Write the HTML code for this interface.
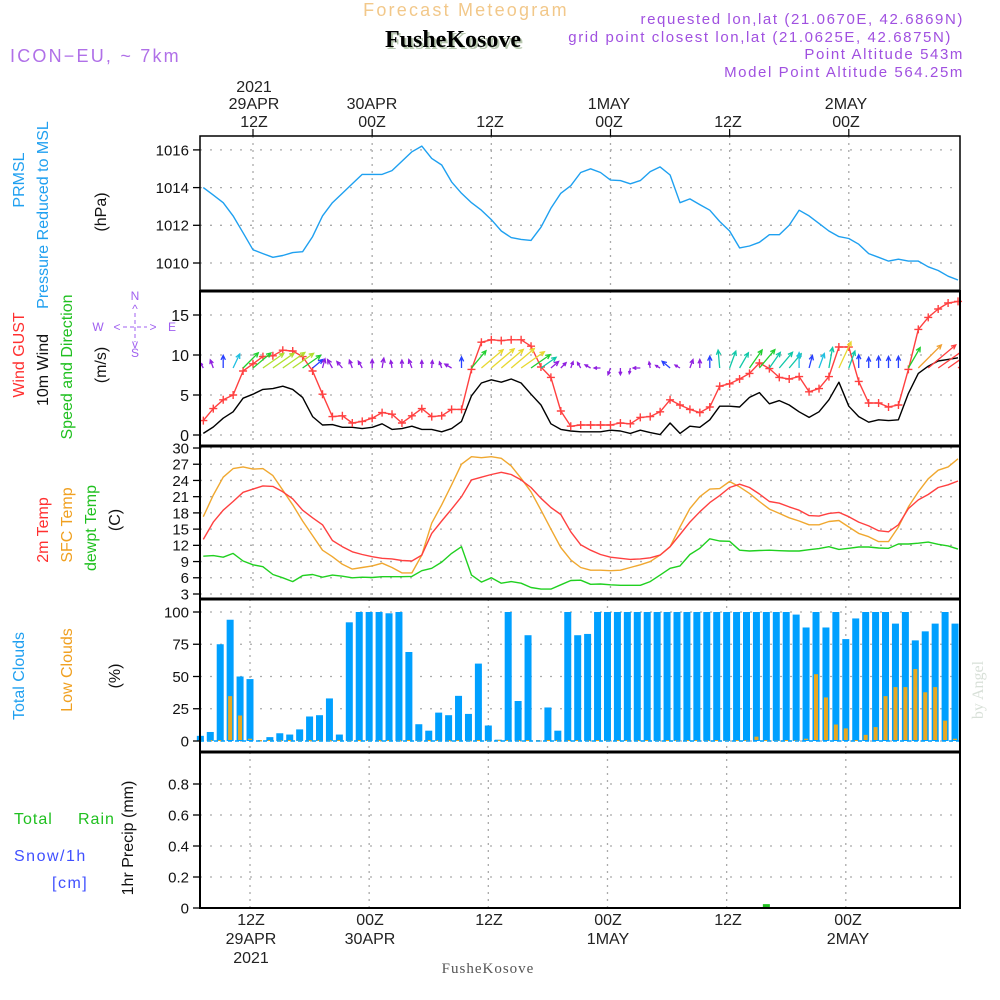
<!DOCTYPE html>
<html><head><meta charset="utf-8"><title>Meteogram FusheKosove</title>
<style>
html,body{margin:0;padding:0;background:#fff;}
svg{display:block;font-family:"Liberation Sans",sans-serif;}
</style></head>
<body>
<svg id="chart" width="1000" height="1000" viewBox="0 0 1000 1000" xmlns="http://www.w3.org/2000/svg">
<defs><clipPath id="windclip"><rect x="200" y="292" width="760" height="153"/></clipPath></defs>
<g id="grid"></g>
<g id="marks"></g>
<g id="arrows" clip-path="url(#windclip)"></g>
<g id="axes"></g>
<g id="labels">
  <text x="466" y="16" text-anchor="middle" font-size="18" fill="#f2c88a" letter-spacing="2.2">Forecast Meteogram</text>
  <text x="455" y="49" text-anchor="middle" font-size="24" font-weight="bold" font-family="Liberation Serif,serif" fill="#b8c8b0">FusheKosove</text>
  <text x="453" y="47" text-anchor="middle" font-size="24" font-weight="bold" font-family="Liberation Serif,serif" fill="#000">FusheKosove</text>
  <text x="10" y="62" font-size="18" fill="#b070e8" letter-spacing="2.2">ICON−EU, ~ 7km</text>
  <g font-size="15" fill="#a050e0" text-anchor="end" letter-spacing="1.6">
    <text x="964" y="24">requested lon,lat (21.0670E, 42.6869N)</text>
    <text x="952" y="42">grid point closest lon,lat (21.0625E, 42.6875N)</text>
    <text x="964" y="59">Point Altitude 543m</text>
    <text x="964" y="77">Model Point Altitude 564.25m</text>
  </g>
  <g font-size="16" fill="#222" text-anchor="middle">
    <text x="254" y="92">2021</text><text x="254" y="109">29APR</text><text x="254" y="127">12Z</text>
    <text x="372" y="109">30APR</text><text x="372" y="127">00Z</text>
    <text x="490" y="127">12Z</text>
    <text x="609" y="109">1MAY</text><text x="609" y="127">00Z</text>
    <text x="728" y="127">12Z</text>
    <text x="846" y="109">2MAY</text><text x="846" y="127">00Z</text>
  </g>
  <g font-size="16" fill="#222" text-anchor="middle">
    <text x="251" y="925">12Z</text><text x="251" y="944">29APR</text><text x="251" y="963">2021</text>
    <text x="370" y="925">00Z</text><text x="370" y="944">30APR</text>
    <text x="489" y="925">12Z</text>
    <text x="608" y="925">00Z</text><text x="608" y="944">1MAY</text>
    <text x="728" y="925">12Z</text>
    <text x="848" y="925">00Z</text><text x="848" y="944">2MAY</text>
  </g>
  <text x="488" y="973" text-anchor="middle" font-size="15" font-family="Liberation Serif,serif" fill="#555" letter-spacing="1">FusheKosove</text>
  <text transform="translate(983,690) rotate(-90)" text-anchor="middle" font-size="16" font-family="Liberation Serif,serif" fill="#d8e0d8">by Angel</text>
  <text transform="translate(24,180) rotate(-90)" text-anchor="middle" font-size="16" fill="#20a0f0">PRMSL</text>
  <text transform="translate(48,215) rotate(-90)" text-anchor="middle" font-size="16" fill="#20a0f0">Pressure Reduced to MSL</text>
  <text transform="translate(106,212) rotate(-90)" text-anchor="middle" font-size="16" fill="#111">(hPa)</text>
  <text transform="translate(24,355) rotate(-90)" text-anchor="middle" font-size="16" fill="#ff3030">Wind GUST</text>
  <text transform="translate(48,370) rotate(-90)" text-anchor="middle" font-size="16" fill="#111">10m Wind</text>
  <text transform="translate(72,367) rotate(-90)" text-anchor="middle" font-size="16" fill="#20c020">Speed and Direction</text>
  <text transform="translate(106,365) rotate(-90)" text-anchor="middle" font-size="16" fill="#111">(m/s)</text>
  <g font-size="12" fill="#a060f0" text-anchor="middle">
    <text x="135" y="300">N</text><text x="135" y="357">S</text><text x="98" y="331">W</text><text x="172" y="331">E</text>
    <text x="135" y="313">^</text><text x="135" y="348">v</text>
    <text x="117" y="331">&lt;</text><text x="153" y="331">&gt;</text>
    <line x1="123" y1="327" x2="147" y2="327" stroke="#a060f0" stroke-dasharray="4,3"/>
    <line x1="135" y1="313" x2="135" y2="342" stroke="#a060f0" stroke-dasharray="4,3"/>
  </g>
  <text transform="translate(48,530) rotate(-90)" text-anchor="middle" font-size="16" fill="#ff3030">2m Temp</text>
  <text transform="translate(72,525) rotate(-90)" text-anchor="middle" font-size="16" fill="#f0a020">SFC Temp</text>
  <text transform="translate(96,528) rotate(-90)" text-anchor="middle" font-size="16" fill="#20c020">dewpt Temp</text>
  <text transform="translate(120,520) rotate(-90)" text-anchor="middle" font-size="16" fill="#111">(C)</text>
  <text transform="translate(24,676) rotate(-90)" text-anchor="middle" font-size="16" fill="#20a0f0">Total Clouds</text>
  <text transform="translate(72,670) rotate(-90)" text-anchor="middle" font-size="16" fill="#f0a020">Low Clouds</text>
  <text transform="translate(120,676) rotate(-90)" text-anchor="middle" font-size="16" fill="#111">(%)</text>
  <text transform="translate(133,838) rotate(-90)" text-anchor="middle" font-size="16" fill="#111">1hr Precip (mm)</text>
  <text x="14" y="824" font-size="16" fill="#20c020" letter-spacing="1">Total</text>
  <text x="78" y="824" font-size="16" fill="#20c020" letter-spacing="1">Rain</text>
  <text x="14" y="861" font-size="16" fill="#4050ff" letter-spacing="1.5">Snow/1h</text>
  <text x="52" y="888" font-size="16" fill="#4050ff" letter-spacing="1.5">[cm]</text>
</g>
</svg>
<script>
const hourStart = 7;
const pressure = [1014.0,1013.6,1013.2,1012.5,1011.6,1010.7,1010.5,1010.3,1010.4,1010.55,1010.6,1011.4,1012.5,1013.2,1013.7,1014.2,1014.7,1014.7,1014.7,1014.9,1015.4,1015.9,1016.2,1015.55,1015.2,1014.3,1013.7,1013.2,1012.8,1012.3,1011.7,1011.35,1011.25,1011.2,1011.9,1012.9,1013.7,1014.1,1014.8,1015.0,1014.8,1014.4,1014.37,1014.2,1014.37,1014.85,1015.1,1014.67,1013.2,1013.4,1013.1,1012.8,1012.2,1011.7,1010.8,1010.9,1011.1,1011.5,1011.5,1012.0,1012.8,1012.5,1012.1,1011.7,1011.4,1011.3,1011.0,1010.5,1010.3,1010.1,1010.2,1010.1,1010.1,1009.8,1009.6,1009.3,1009.1];
const windGust = [1.8,3.3,4.4,5.0,8.0,8.9,9.8,9.9,10.6,10.5,9.8,8.0,5.1,2.3,2.4,1.5,1.7,2.1,2.8,2.6,1.5,2.4,3.3,2.3,2.4,3.2,3.2,8.2,11.6,11.9,11.8,11.9,11.9,11.1,8.5,7.2,3.0,1.1,1.25,1.25,1.25,1.25,1.5,1.4,2.2,2.3,2.9,4.4,3.75,3.2,2.8,3.5,6.1,6.4,7.0,7.7,9.0,8.3,7.2,7.0,7.3,5.4,5.8,7.3,11.0,11.0,6.7,4.0,4.0,3.5,3.75,8.2,13.2,14.7,15.75,16.5,16.7];
const windSpeed = [0.2,1.0,2.1,2.9,4.6,5.1,5.7,5.8,6.1,5.7,4.7,2.3,1.25,1.3,0.96,0.96,0.8,0.96,1.4,0.7,0.8,1.1,0.7,0.7,0.4,0.8,1.7,4.9,6.5,6.9,6.6,7.0,6.5,5.1,3.75,1.4,0.7,0.5,0.4,0.4,0.4,0.6,0.5,0.2,0.6,0.3,0.05,1.5,0.2,1.1,0.96,1.9,3.6,3.6,3.5,4.7,5.3,3.9,4.3,3.75,2.9,2.2,2.9,4.4,6.6,3.6,2.3,1.6,1.9,1.8,1.9,5.2,7.7,8.6,9.25,9.45,9.65];
const windDir = [330,340,0,25,45,50,55,55,55,55,55,50,15,330,320,340,330,0,10,350,0,340,0,5,340,300,0,40,50,50,50,50,55,55,55,50,45,20,330,300,270,200,180,190,270,350,300,310,300,20,0,0,355,20,30,35,40,35,40,40,0,15,20,10,25,20,0,0,0,0,0,30,45,50,55,55,55];
const temp2m = [13.1,16.3,18.5,20.1,21.8,22.4,23.0,22.9,21.9,20.6,18.5,17.1,15.8,12.9,11.75,10.8,10.3,9.9,9.6,9.5,9.2,9.1,10.2,14.2,16.5,18.7,21.0,24.1,24.6,25.1,25.5,25.1,24.1,22.7,20.7,19.0,17.7,14.5,12.1,11.1,10.3,9.8,9.6,9.4,9.5,9.7,10.2,11.75,14.0,16.3,18.2,19.9,21.2,22.7,23.3,22.7,21.5,20.1,19.8,19.1,18.5,17.5,17.4,17.9,18.1,17.3,16.3,15.6,14.7,14.5,15.8,18.8,20.4,21.4,22.7,23.2,23.9];
const tempSfc = [17.3,21.3,24.6,26.2,26.5,26.1,26.2,24.9,22.2,19.5,16.5,13.8,11.1,9.9,8.5,7.6,7.9,8.2,8.7,7.9,6.9,6.9,10.2,16.1,19.5,23.2,27.0,28.4,28.2,28.4,28.1,26.7,24.4,21.9,18.5,15.0,11.6,9.3,7.9,7.4,7.4,7.3,7.4,7.9,8.4,9.0,10.2,11.75,15.4,18.8,21.0,22.4,22.5,23.8,22.8,21.6,20.1,18.7,17.9,17.1,16.5,15.8,15.8,16.4,16.6,15.4,14.2,13.6,12.7,12.7,15.4,19.1,21.9,24.3,25.9,26.5,28.0];
const dewpoint = [10.0,10.1,9.8,10.5,9.1,8.4,8.05,6.6,6.0,5.3,6.4,6.6,6.1,6.5,6.3,6.0,6.1,6.05,6.2,6.2,6.2,6.25,7.3,7.75,8.9,10.5,11.75,6.5,5.2,6.0,5.0,5.3,5.0,4.2,3.9,3.9,4.7,5.5,5.55,4.8,4.85,4.7,4.6,4.6,4.6,5.3,6.5,7.75,8.2,10.3,11.45,13.2,12.8,12.75,11.1,10.95,11.05,11.1,11.0,10.95,10.95,11.2,11.4,11.75,11.25,11.45,11.7,11.7,11.5,11.45,12.25,12.25,12.4,12.6,12.2,11.9,11.3];
const totalClouds = [4,7,75,94,50,48,0,3,6,5,9,19,20,33,5,92,100,100,100,99,100,69,13,8,22,20,35,21,60,12,1,100,31,82,0,26,8,100,82,83,100,100,100,100,100,100,100,100,100,100,100,100,100,100,100,100,100,100,100,100,98,88,100,88,100,79,95,100,100,100,91,100,78,85,91,100,91];
const lowClouds = [0,0,0,34,19,1,0,0,0,0,0,0,0,0,0,0,0,0,0,0,0,0,0,0,0,0,0,0,0,0,0,0,0,0,0,0,0,0,0,0,0,0,0,0,0,0,0,0,0,0,0,0,0,0,0,0,2.6,0,0,0,0,1,51,33,12,9,0,4,10,34,41,41,55,37,41,15,1];
const rain = [0,0,0,0,0,0,0,0,0,0,0,0,0,0,0,0,0,0,0,0,0,0,0,0,0,0,0,0,0,0,0,0,0,0,0,0,0,0,0,0,0,0,0,0,0,0,0,0,0,0,0,0,0,0,0,0,0,0.025,0.006,0,0,0,0,0,0,0,0,0,0,0,0,0,0,0,0,0,0];
const pressureTicks = [1010,1012,1014,1016];
const windTicks = [0,5,10,15];
const tempTicks = [3,6,9,12,15,18,21,24,27,30];
const cloudTicks = [0,25,50,75,100];
const rainTicks = [0,0.2,0.4,0.6,0.8];
const rainTickLabels = ["0","0.2","0.4","0.6","0.8"];
const timeGridHours = [12,24,36,48,60,72];

const L = 200, R = 960;
function X(h){ return 253 + (h-12)*9.93; }
function XB(h){ return 250 + (h-12)*9.93; }
function YP(p){ return 263 - (p-1010)*18.85; }
function YW(v){ return 435 - v*8; }
function YT(t){ return 594 - (t-3)*5.407; }
function YC(c){ return 741 - c*1.29; }
function YR(r){ return 908 - r*155; }
const panels = [[136,291],[291,446],[446,599],[599,752],[752,908]];

const NS = "http://www.w3.org/2000/svg";
function mk(tag, attrs, parent){
  const e = document.createElementNS(NS, tag);
  for (const k in attrs) e.setAttribute(k, attrs[k]);
  parent.appendChild(e); return e;
}
const grid = document.getElementById('grid');
const marks = document.getElementById('marks');
const arrows = document.getElementById('arrows');
const axes = document.getElementById('axes');

panels.forEach(function(p, i){
  timeGridHours.forEach(function(h){
    const x = i < 3 ? X(h) : XB(h);
    const g = mk('line', {x1:x, x2:x, y1:p[0], y2:p[1], stroke:'#aaa', 'stroke-width':1.3, 'stroke-dasharray':'2,5'}, grid);
    
    
  });
});
function hgrid(ticks, yf, name){
  ticks.forEach(function(t){
    const y = yf(t);
    const g = mk('line', {x1:L, x2:R, y1:y, y2:y, stroke:'#aaa', 'stroke-width':1.3, 'stroke-dasharray':'2,8'}, grid);
    
    
  });
}
hgrid(pressureTicks, YP, 'pressure-grid-line');
hgrid(windTicks, YW, 'wind-grid-line');
hgrid(tempTicks, YT, 'temp-grid-line');
hgrid(cloudTicks, YC, 'cloud-grid-line');
hgrid(rainTicks, YR, 'precip-grid-line');

function pathFrom(arr, yf){
  return arr.map(function(v,i){ return (i?'L':'M') + X(hourStart+i).toFixed(1) + ',' + yf(v).toFixed(1); }).join(' ');
}
function line(arr, yf, color, name){
  const p = mk('path', {d:pathFrom(arr, yf), fill:'none', stroke:color, 'stroke-width':1.4, 'stroke-linejoin':'round'}, marks);
  
  
}

line(pressure, YP, '#1ea0f0', 'pressure-line');

totalClouds.forEach(function(c,i){
  const x = XB(hourStart+i);
  const b = mk('rect', {x:x-3.5, y:YC(c), width:7, height:Math.max(0, YC(0)-YC(c)), fill:'#00a0ff'}, marks);
  
  
});
lowClouds.forEach(function(c,i){
  const x = XB(hourStart+i);
  const b = mk('rect', {x:x-2, y:YC(c)-1, width:4, height:Math.max(1, YC(0)-YC(c)), fill:'#e8a820'}, marks);
  
  
});

line(tempSfc, YT, '#f0a830', 'sfc-temp-line');
line(temp2m, YT, '#ff4040', 'temp-2m-line');
line(dewpoint, YT, '#20d020', 'dewpoint-line');

function windColor(s){
  if (s < 1.5) return '#9020e0';
  if (s < 2.5) return '#2840ff';
  if (s < 3.5) return '#20c0e0';
  if (s < 4.5) return '#10c8a8';
  if (s < 5.5) return '#20d030';
  if (s < 6.5) return '#b0e030';
  if (s < 7.5) return '#e8d830';
  if (s < 8.5) return '#f0a030';
  return '#ff4040';
}
const arrowY = 368;
windSpeed.forEach(function(s,i){
  const x0 = X(hourStart+i);
  const a = windDir[i]*Math.PI/180;
  const len = 5 + s*3.6;
  const x1 = x0 + Math.sin(a)*len, y1 = arrowY - Math.cos(a)*len;
  const col = windColor(s);
  const hl = Math.min(5, len*0.5);
  const h1x = x1 - Math.sin(a-0.45)*hl, h1y = y1 + Math.cos(a-0.45)*hl;
  const h2x = x1 - Math.sin(a+0.45)*hl, h2y = y1 + Math.cos(a+0.45)*hl;
  const ar = mk('path', {d:'M'+x0.toFixed(1)+','+arrowY+' L'+x1.toFixed(1)+','+y1.toFixed(1)+' M'+h1x.toFixed(1)+','+h1y.toFixed(1)+' L'+x1.toFixed(1)+','+y1.toFixed(1)+' L'+h2x.toFixed(1)+','+h2y.toFixed(1), stroke:col, 'stroke-width':1.3, fill:'none'}, arrows);
  
  
});
line(windSpeed, YW, '#000', 'wind-speed-line');
line(windGust, YW, '#ff4040', 'wind-gust-line');
windGust.forEach(function(v,i){
  const x = X(hourStart+i), y = YW(v);
  const m = mk('path', {d:'M'+(x-4)+','+y+' H'+(x+4)+' M'+x+','+(y-4)+' V'+(y+4), stroke:'#ff4040', 'stroke-width':1.4}, marks);
  
  
});

rain.forEach(function(r,i){
  if (r <= 0) return;
  const x = XB(hourStart+i);
  const b = mk('rect', {x:x-3.5, y:YR(r), width:7, height:YR(0)-YR(r), fill:'#20c020'}, marks);
  
  
});
const rb = mk('line', {x1:L, x2:R, y1:908, y2:908, stroke:'#222', 'stroke-width':2, 'stroke-dasharray':'6,3'}, marks);


const cb = mk('line', {x1:L, x2:R, y1:741, y2:741, stroke:'#00a0ff', 'stroke-width':1.5, 'stroke-dasharray':'4,3'}, marks);



panels.forEach(function(p, i){
  const r = mk('rect', {x:L, y:p[0], width:R-L, height:p[1]-p[0], fill:'none', stroke:'#000', 'stroke-width':i===0?1.5:2}, axes);
  
  
});
[291,446,599,752].forEach(function(y){
  const s = mk('line', {x1:L, x2:R, y1:y, y2:y, stroke:'#000', 'stroke-width':3}, axes);
  
  
});
timeGridHours.forEach(function(h){
  const t = mk('line', {x1:X(h), x2:X(h), y1:129, y2:136, stroke:'#000', 'stroke-width':1.2}, axes);
  
  
});
function yaxis(ticks, labels, yf, fs, name){
  ticks.forEach(function(t, k){
    const y = yf(t);
    const tk = mk('line', {x1:L-7, x2:L, y1:y, y2:y, stroke:'#000', 'stroke-width':1.3}, axes);
    
    
    const tx = mk('text', {x:L-11, y:y+fs*0.36, 'text-anchor':'end', 'font-size':fs, fill:'#111'}, axes);
    tx.textContent = labels[k];
    
    
  });
}
yaxis(pressureTicks, pressureTicks.map(String), YP, 15, 'pressure-axis');
yaxis(windTicks, windTicks.map(String), YW, 16, 'wind-axis');
yaxis(tempTicks, tempTicks.map(String), YT, 15, 'temp-axis');
yaxis(cloudTicks, cloudTicks.map(String), YC, 15, 'cloud-axis');
yaxis(rainTicks, rainTickLabels, YR, 15, 'precip-axis');
</script>
</body></html>
